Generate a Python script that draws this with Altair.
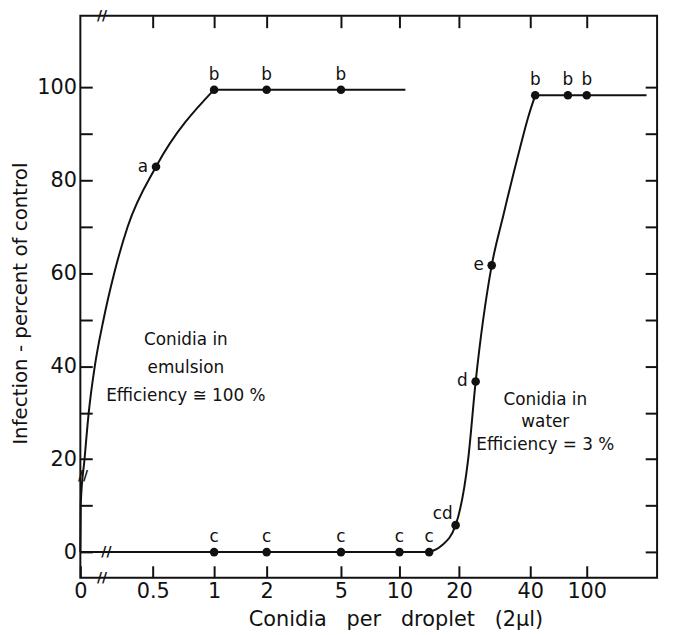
import altair as alt
import pandas as pd

# ---------------- data ----------------
# emulsion curve (rising part) and plateau
emul_curve_x = [0, 0.003, 0.029, 0.058, 0.10, 0.16, 0.234, 0.327, 0.527, 1]
emul_curve_y = [0, 10.4, 20, 30, 40, 50, 60, 70, 82.9, 99.5]
emul_flat_x = [1, 2, 5, 11]
emul_flat_y = [99.5, 99.5, 99.5, 99.5]

# water: baseline, rising curve, plateau
water_low_x = [0, 1, 2, 5, 10, 15]
water_low_y = [0, 0, 0, 0, 0, 0]
water_curve_x = [15, 17, 19.45, 22.6, 24.7, 29.2, 32.5, 37.0, 39.5, 45.3]
water_curve_y = [0, 1.3, 5.8, 20, 36.7, 61.7, 72.6, 86.6, 93.8, 98.3]
water_top_x = [45.3, 80, 100, 185]
water_top_y = [98.3, 98.3, 98.3, 98.3]

# plotted points with their significance letters
point_x = [0.527, 1, 2, 5, 1, 2, 5, 10, 15, 19.45, 24.7, 29.2, 45.3, 80, 100]
point_y = [82.9, 99.5, 99.5, 99.5, 0, 0, 0, 0, 0, 5.8, 36.7, 61.7, 98.3, 98.3, 98.3]
point_letter = ["a", "b", "b", "b", "c", "c", "c", "c", "c", "cd", "d", "e", "b", "b", "b"]
point_side = ["left", "above", "above", "above", "above", "above", "above", "above",
              "above", "upleft", "left", "left", "above", "above", "above"]

# axes
x_tick_values = [0, 0.5, 1, 2, 5, 10, 20, 40, 100]
x_top_ticks = [0.5, 1, 2, 5, 10, 20, 40, 100]
y_tick_values = [0, 10, 20, 30, 40, 50, 60, 70, 80, 90, 100]

# annotations (position = first line of each block)
note_text = ["Conidia in\nemulsion\nEfficiency \u2245 100 %", "Conidia in\nwater\nEfficiency = 3 %"]
note_x = [0.77, 56]
note_y = [45.6, 32.8]

# axis-break marks
break_x = [0.15, 0.15, 0.18, 0.018]
break_y = [-5.5, 115.4, 0, 16.4]

# ---------------- tables ----------------
rows = []
for seg, xs, ys in [("e1", emul_curve_x, emul_curve_y), ("e2", emul_flat_x, emul_flat_y),
                    ("w1", water_low_x, water_low_y), ("w2", water_curve_x, water_curve_y),
                    ("w3", water_top_x, water_top_y)]:
    for xv, yv in zip(xs, ys):
        rows.append({"seg": seg, "x": xv, "y": yv})
lines_df = pd.DataFrame(rows)
points_df = pd.DataFrame({"x": point_x, "y": point_y, "letter": point_letter, "side": point_side})
notes_df = pd.DataFrame({"x": note_x, "y": note_y, "text": note_text, "i": [0, 1]})
breaks_df = pd.DataFrame({"x": break_x, "y": break_y, "t": ["//"] * len(break_x)})

FONT = "DejaVu Sans"
INK = "#111111"
NB = "\u00a0"

xscale = alt.Scale(type="linear", domain=[0, 0.5, 1, 2, 5, 10, 20, 40, 100, 200],
                   range=[0, 73, 135, 188, 263, 322, 382, 454, 511, 582], nice=False, zero=False)
yscale = alt.Scale(domain=[-5.5, 115.4], nice=False, zero=False)

x_title = ("Conidia" + NB * 2 + " per" + NB * 2 + " droplet" + NB * 2 + " (2\u03bcl)")

x_bottom = alt.Axis(orient="bottom", values=x_tick_values, offset=-12,
                    labelExpr="datum.value == 0.5 ? '0.5' : format(datum.value, 'd')",
                    tickSize=12, tickWidth=2, tickColor=INK, domain=False, grid=False,
                    labelFont=FONT, labelFontSize=21, labelColor=INK, labelPadding=3,
                    title=x_title, titleFont=FONT,
                    titleFontSize=21, titleFontWeight="normal", titleColor=INK,
                    titleX=318, titlePadding=7, labelFlush=False)
y_left = alt.Axis(orient="left", values=y_tick_values, format="d", offset=-12,
                  tickSize=12, tickWidth=2, tickColor=INK, domain=False, grid=False,
                  labelExpr="datum.value % 20 == 0 ? datum.label : ''",
                  labelFont=FONT, labelFontSize=21, labelColor=INK, labelPadding=4,
                  title="Infection - percent of control", titleFont=FONT, titleFontSize=20,
                  titleFontWeight="normal", titleColor=INK, titlePadding=6, titleY=290)
x_top = alt.Axis(orient="top", values=x_top_ticks, offset=-12, tickSize=12, tickWidth=2,
                 tickColor=INK, domain=False, grid=False, labels=False, title=None)
y_right = alt.Axis(orient="right", values=y_tick_values, offset=-12, tickSize=12, tickWidth=2,
                   tickColor=INK, domain=False, grid=False, labels=False, title=None)

lines = alt.Chart(lines_df).mark_line(interpolate="monotone", color=INK, strokeWidth=2).encode(
    x=alt.X("x:Q", scale=xscale, axis=x_bottom),
    y=alt.Y("y:Q", scale=yscale, axis=y_left),
    detail="seg:N",
)

points = alt.Chart(points_df).mark_point(filled=True, size=75, color=INK, opacity=1).encode(
    x=alt.X("x:Q", scale=xscale, axis=x_top),
    y=alt.Y("y:Q", scale=yscale, axis=y_right),
)

def txt(df, **kw):
    return alt.Chart(df).mark_text(font=FONT, color=INK, **kw)

enc = dict(x=alt.X("x:Q", scale=xscale, axis=None), y=alt.Y("y:Q", scale=yscale, axis=None))

lab_above = txt(points_df, fontSize=17, dy=-15, align="center", baseline="middle").encode(
    text="letter:N", **enc).transform_filter("datum.side == 'above'")
lab_left = txt(points_df, fontSize=17, dx=-8, align="right", baseline="middle").encode(
    text="letter:N", **enc).transform_filter("datum.side == 'left'")
lab_upleft = txt(points_df, fontSize=17, dx=-3, dy=-11, align="right", baseline="middle").encode(
    text="letter:N", **enc).transform_filter("datum.side == 'upleft'")

note1 = txt(notes_df, fontSize=17, align="center", baseline="middle", lineBreak="\n",
            lineHeight=28).encode(text="text:N", **enc).transform_filter("datum.i == 0")
note2 = txt(notes_df, fontSize=17, align="center", baseline="middle", lineBreak="\n",
            lineHeight=23).encode(text="text:N", **enc).transform_filter("datum.i == 1")

breaks = txt(breaks_df, fontSize=14, fontWeight="bold", align="center", baseline="middle").encode(
    text="t:N", **enc)

chart = alt.layer(lines, points, lab_above, lab_left, lab_upleft, note1, note2, breaks).resolve_axis(
    x="independent", y="independent"
).properties(
    width=582, height=567,
    autosize=alt.AutoSizeParams(type="none"),
    padding={"left": 73, "top": 5, "right": 10, "bottom": 55},
    background="white",
).configure_view(stroke=INK, strokeWidth=2)

chart.save("out.html", embed_options={"renderer": "svg", "actions": False})
